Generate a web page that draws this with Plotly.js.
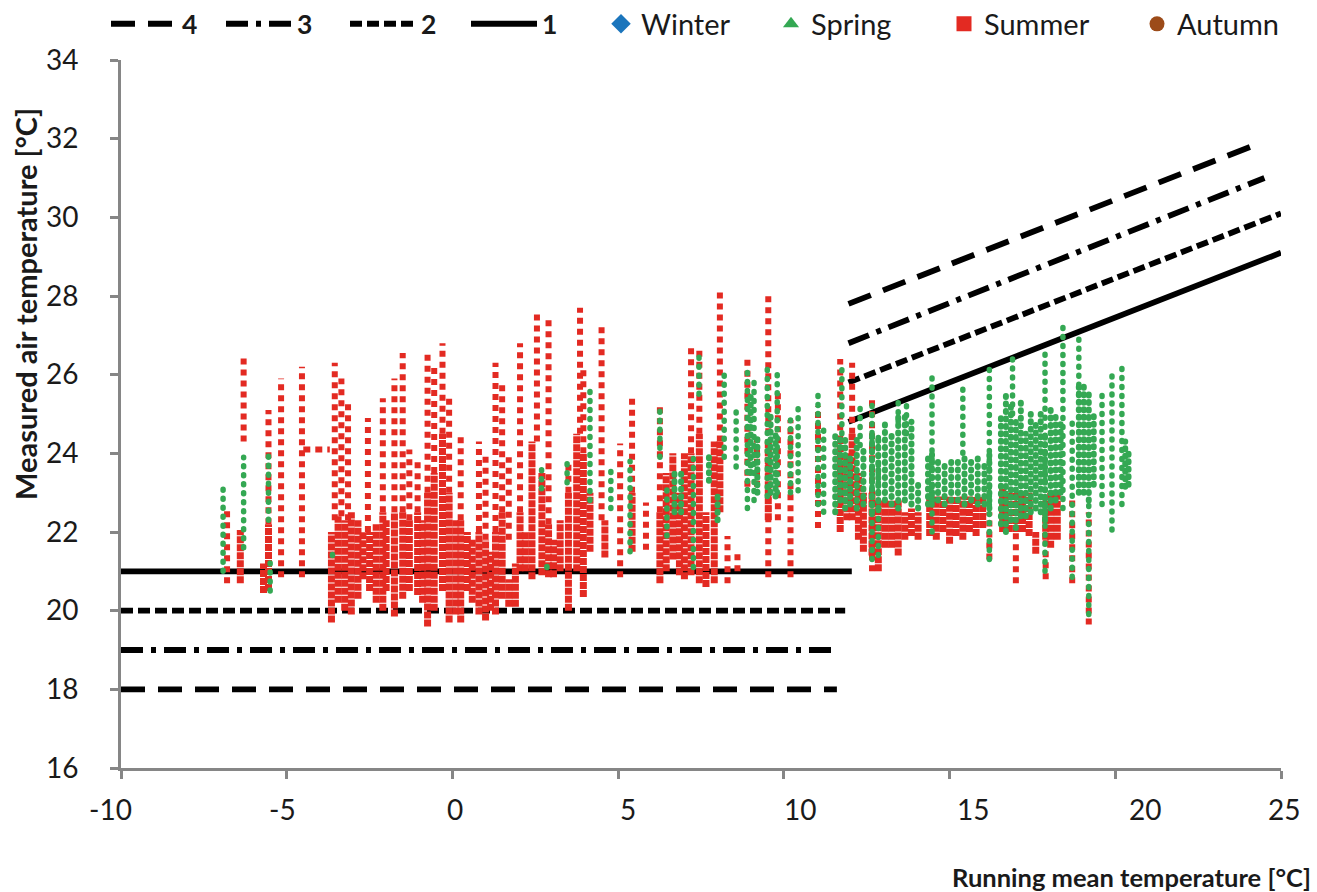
<!DOCTYPE html>
<html><head><meta charset="utf-8">
<script src="https://cdn.plot.ly/plotly-3.0.1.min.js"></script>
<style>
html,body{margin:0;padding:0;background:#fff;}
#chart{width:1317px;height:892px;}
.tracegsp .js-line,.tracegdn .js-line{stroke-linecap:round;}
</style></head><body><div id="chart"></div>
<script>
// ---------- data ----------
const xTicks = [-10,-5,0,5,10,15,20,25];
const xTickLabels = ['-10','-5','0','5','10','15','20','25'];
const yTicks = [16,18,20,22,24,26,28,30,32,34];
const yTickLabels = ['16','18','20','22','24','26','28','30','32','34'];

// comfort category lines (4,3,2,1)
const catLabels = ['4','3','2','1'];
const lowerStartX = [-10,-10,-10,-10];
const lowerEndX = [11.6,11.65,11.85,12.05];
const lowerY = [18,19,20,21];
const upperStartX = [11.95,11.95,11.95,11.95];
const upperStartY = [27.8,26.8,25.8,24.8];
const upperEndX = [24.4,24.5,25,25];
const upperEndY = [31.9,31.0,30.1,29.1];

// Summer: dense vertical runs of points (x, lowest, highest)
const summerDenseX  = [-6.4,-5.7,-5.55,-3.65,-3.45,-3.25,-3.05,-2.85,-2.7,-2.5,-2.3,-2.1,-2.0,-1.75,-1.5,-1.3,-1.05,-0.9,-0.75,-0.55,-0.3,-0.1,0.1,0.25,0.45,0.6,0.8,1.0,1.15,1.3,1.5,1.7,1.9,2.04,2.2,2.4,2.7,2.9,3.05,3.25,3.5,3.75,3.95,4.15,4.6,5.42,6.26,6.45,6.65,6.85,7.0,7.2,7.45,7.65,7.9,8.07,9.53,11.7,11.9,12.06,12.25,12.4,12.66,12.85,13.05,13.25,13.45,13.65,13.85,14.05,14.4,14.6,14.8,15.0,15.2,15.4,15.6,15.8,16.0,16.6,16.8,17.0,17.2,17.4,17.6,17.9,18.05,18.25];
const summerDenseLo = [20.7,20.45,20.5,19.7,20.2,20.0,19.9,20.3,20.8,20.5,20.2,20.0,20.5,19.85,20.3,20.5,20.4,20.2,19.6,20.0,20.5,19.7,19.9,19.7,20.5,20.2,19.9,19.75,20.0,19.9,20.3,20.1,20.1,21.0,21.0,20.8,20.9,20.85,20.85,21.0,20.0,21.0,20.35,21.5,21.35,21.5,20.7,21.0,21.3,20.9,20.8,20.9,20.7,20.6,20.7,22.5,22.3,22.0,22.3,22.3,21.8,21.5,21.4,21.0,21.6,21.6,21.4,21.8,21.9,21.8,21.9,21.8,22.0,21.7,21.9,21.8,22.0,21.9,22.1,22.0,22.0,22.0,22.0,21.9,21.45,21.8,21.6,21.8];
const summerDenseHi = [22.05,21.2,22.2,22.0,22.4,22.3,22.5,22.3,22.0,22.0,22.2,22.5,22.3,22.5,22.5,22.3,22.5,22.3,23.0,23.5,24.5,23.0,22.3,22.3,22.0,21.8,22.0,21.8,21.5,22.0,22.5,20.8,21.2,22.5,22.0,24.3,23.5,22.2,21.8,22.3,23.0,24.5,24.0,23.0,22.3,23.0,22.5,23.5,24.0,23.0,24.0,24.0,24.5,22.5,24.3,24.3,24.3,24.3,24.0,24.5,23.5,23.0,23.0,22.8,22.8,22.8,22.8,22.5,22.6,22.5,22.9,22.9,22.9,22.9,22.9,22.9,22.9,22.9,22.9,23.1,23.0,23.0,23.0,23.0,22.0,22.9,23.0,23.0];

// Summer: sparse vertical runs (spaced points)
const summerSparseX  = [-6.8,-6.3,-5.55,-5.17,-4.54,-3.55,-3.35,-3.15,-2.55,-2.1,-1.75,-1.5,-1.3,-1.05,-0.75,-0.55,-0.3,-0.1,0.25,0.8,1.0,1.3,1.5,1.7,2.04,2.55,2.9,3.5,3.85,3.95,4.5,5.06,5.42,5.84,6.26,7.2,7.45,8.07,8.3,8.6,8.9,9.19,9.53,9.82,10.2,11.03,11.7,12.06,12.66,16.2,17.0,17.9,18.7,19.2];
const summerSparseLo = [20.7,24.3,22.2,20.85,20.85,22.3,22.4,22.3,22.0,22.5,22.5,22.5,22.3,22.5,23.0,23.5,24.5,23.0,22.3,22.0,21.8,22.0,22.5,21.8,22.5,24.3,22.2,23.0,24.5,24.0,22.3,20.85,23.0,21.55,22.5,24.0,24.5,24.3,20.7,21.0,23.15,23.15,20.85,22.3,20.85,22.1,24.3,24.5,21.0,21.3,20.7,20.8,20.7,19.65];
const summerSparseHi = [22.6,26.45,25.1,25.9,26.2,26.3,25.9,25.3,24.9,25.4,25.9,26.55,24.1,23.8,26.6,26.2,26.8,25.5,24.5,24.3,24.0,26.3,25.8,23.9,26.8,27.6,27.4,23.8,27.7,26.2,27.3,24.25,25.45,22.75,25.2,26.7,26.65,28.1,21.9,21.5,26.45,24.4,28.0,25.6,24.85,25.2,26.4,26.3,25.35,22.5,22.0,21.8,22.8,22.5];

// Summer: horizontal run of points
const summerRowX0 = [-4.5];
const summerRowX1 = [-3.7];
const summerRowY  = [24.1];

// Spring: dense vertical runs
const springDenseX  = [6.7,6.9,7.74,8.0,9.0,9.2,9.6,9.75,11.55,11.7,11.85,12.0,12.2,12.4,12.66,12.85,13.05,13.25,13.45,13.65,13.85,14.05,14.35,14.47,14.65,14.85,15.05,15.25,15.45,15.65,15.85,16.05,16.2,16.55,16.7,16.85,17.0,17.15,17.3,17.45,17.6,17.75,17.88,18.05,18.2,18.35,18.9,19.05,19.2,19.35,20.3,20.4];
const springDenseLo = [22.5,22.5,23.3,22.3,23.5,23.0,23.0,22.9,22.5,22.8,22.6,22.7,22.6,22.7,22.5,22.6,22.8,22.7,22.6,22.8,22.7,22.6,22.7,22.8,22.8,22.7,22.8,22.8,22.7,22.8,22.7,22.7,22.6,22.2,22.0,22.3,22.1,22.4,22.4,22.5,22.6,22.5,22.3,22.6,22.8,23.0,23.0,23.0,22.8,23.2,23.15,23.2];
const springDenseHi = [23.6,23.6,24.0,22.9,25.5,24.5,25.0,24.5,24.5,24.5,24.5,24.0,24.5,24.2,24.5,24.5,24.8,24.5,25.0,25.0,24.8,23.3,23.9,24.0,23.9,23.8,23.9,23.8,24.0,23.8,23.9,23.7,24.0,25.0,25.5,25.2,24.8,25.3,24.5,25.0,24.8,25.0,24.5,25.2,25.0,24.8,25.8,25.7,25.5,25.0,24.3,24.1];

// Spring: sparse vertical runs
const springSparseX  = [-6.92,-6.3,-5.55,-5.5,-3.62,2.69,2.85,3.46,4.15,4.78,5.36,6.26,6.47,7.27,7.44,8.2,8.56,8.9,9.1,9.5,9.8,10.2,10.43,11.03,11.2,11.75,12.3,12.66,12.85,13.45,13.7,14.47,15.4,16.2,16.9,17.88,18.42,18.7,18.9,19.2,19.6,19.9,20.2];
const springSparseLo = [21.0,21.6,22.3,20.5,21.4,23.1,21.1,23.25,22.8,22.6,21.5,23.9,21.9,21.1,25.5,23.9,23.65,22.6,22.8,22.9,23.0,23.0,23.05,22.7,22.5,24.5,24.2,21.3,21.4,24.8,24.5,22.0,24.0,21.3,25.0,21.0,22.6,20.85,25.5,19.9,22.7,22.05,22.7];
const springSparseHi = [23.1,23.9,24.1,21.4,21.6,23.6,21.3,23.8,25.7,23.6,23.8,25.2,23.25,24.0,26.5,26.0,25.2,26.2,26.0,26.3,26.0,24.85,25.2,25.6,24.7,26.2,25.3,25.35,24.5,25.45,25.4,26.0,25.65,26.25,26.6,26.6,27.25,24.9,27.1,22.8,25.6,26.0,26.25];

const seasonNames = ['Winter','Spring','Summer','Autumn'];

// ---------- styling ----------
function fontAvailable(name){
  const c = document.createElement('canvas').getContext('2d');
  const s = 'abcdefghijklmnopqrstuvwxyzABCDEFGHIJ0123456789';
  c.font = '40px monospace'; const a = c.measureText(s).width;
  c.font = '40px "' + name + '", monospace'; const b = c.measureText(s).width;
  return Math.abs(a - b) > 1;
}
const NARROW = fontAvailable('Liberation Sans Narrow');
const FONT = NARROW ? '"Liberation Sans Narrow", "Liberation Sans", sans-serif' : 'Lato, sans-serif';
const K = NARROW ? 1.2 : 1;
const TXT = '#1a1a1a';
const RED = '#e32a22', GREEN = '#34a853', BLUE = '#1b75bc', BROWN = '#9c4b19';
const AXC = '#868686';
const FS = {tick:28*K, legendNum:26.5*K, legend:29*K, xTitle:25.5*K, yTitle:29*K};

function vsegs(xs, lo, hi){
  const x = [], y = [];
  for (let i = 0; i < xs.length; i++){ x.push(xs[i], xs[i], null); y.push(lo[i], hi[i], null); }
  return {x, y};
}
function hsegs(x0, x1, ys){
  const x = [], y = [];
  for (let i = 0; i < ys.length; i++){ x.push(x0[i], x1[i], null); y.push(ys[i], ys[i], null); }
  return {x, y};
}

const traces = [];
const catDash = ['24px,13px','22px,8px,5px,8px','12px,5px','solid'];
for (let i = 0; i < catLabels.length; i++){
  traces.push({
    type:'scatter', mode:'lines', name:'<b>' + catLabels[i] + '</b>',
    x:[lowerStartX[i], lowerEndX[i], null, upperStartX[i], upperEndX[i]],
    y:[lowerY[i], lowerY[i], null, upperStartY[i], upperEndY[i]],
    line:{color:'#000', width:5.8, dash:catDash[i]},
    legend: i === 0 ? 'legend' : 'legend' + (i + 1),
    hoverinfo:'skip'
  });
}
const sd = vsegs(summerDenseX, summerDenseLo, summerDenseHi);
traces.push({type:'scatter', mode:'lines', x:sd.x, y:sd.y, line:{color:RED, width:7, dash:'7px,1px'}, showlegend:false, hoverinfo:'skip'});
const ss = vsegs(summerSparseX, summerSparseLo, summerSparseHi);
traces.push({type:'scatter', mode:'lines', x:ss.x, y:ss.y, line:{color:RED, width:6, dash:'6px,5px'}, showlegend:false, hoverinfo:'skip'});
const sr = hsegs(summerRowX0, summerRowX1, summerRowY);
traces.push({type:'scatter', mode:'lines', x:sr.x, y:sr.y, line:{color:RED, width:6, dash:'7px,5px'}, showlegend:false, hoverinfo:'skip'});
const gd = vsegs(springDenseX, springDenseLo, springDenseHi);
traces.push({type:'scatter', mode:'lines', uid:'gdn', x:gd.x, y:gd.y, line:{color:GREEN, width:6, dash:'1px,6.5px'}, showlegend:false, hoverinfo:'skip'});
const gs = vsegs(springSparseX, springSparseLo, springSparseHi);
traces.push({type:'scatter', mode:'lines', uid:'gsp', x:gs.x, y:gs.y, line:{color:GREEN, width:5.5, dash:'1px,8px'}, showlegend:false, hoverinfo:'skip'});

const seasonSymbols = ['diamond','triangle-up','square','circle'];
const seasonColors = [BLUE, GREEN, RED, BROWN];
const seasonSizes = [15, 14, 15, 15];
for (let i = 0; i < seasonNames.length; i++){
  traces.push({type:'scatter', mode:'markers', name:seasonNames[i], x:[null], y:[null],
    marker:{symbol:seasonSymbols[i], color:seasonColors[i], size:seasonSizes[i]},
    legend:'legend' + (i + 5)});
}

// ---------- layout ----------
const L = 121, PW = 1160, T = 60, PH = 708;
const px2x = p => (p - L) / PW;
const py2y = p => (T + PH - p) / PH;

const layout = {
  width:1317, height:892,
  margin:{l:L, r:1317 - L - PW, t:T, b:892 - T - PH, autoexpand:false},
  paper_bgcolor:'#fff', plot_bgcolor:'#fff',
  showlegend:true,
  xaxis:{range:[-10,25], tickvals:xTicks, showticklabels:false, ticks:'outside', ticklen:8, tickwidth:3, tickcolor:AXC,
         showline:true, linewidth:3, linecolor:AXC, showgrid:false, zeroline:false, fixedrange:true, automargin:false},
  yaxis:{range:[16,34], tickvals:yTicks, ticktext:yTickLabels, ticks:'outside', ticklen:8, tickwidth:3, tickcolor:AXC,
         showline:true, linewidth:3, linecolor:AXC, showgrid:false, zeroline:false, fixedrange:true, automargin:false,
         tickfont:{family:FONT, size:FS.tick, color:TXT}, ticklabelstandoff:26},
  annotations:[]
};

// x tick labels (Excel spreads them slightly wider than the ticks)
for (let i = 0; i < xTicks.length; i++){
  const p = Math.min(455 + 34.5 * xTicks[i], 1284);
  layout.annotations.push({xref:'paper', yref:'paper', x:px2x(p), y:py2y(809), xanchor:'center', yanchor:'middle',
    text:xTickLabels[i], showarrow:false, font:{family:FONT, size:FS.tick, color:TXT}});
}
layout.annotations.push({xref:'paper', yref:'paper', x:px2x(950), y:py2y(860), xanchor:'left', yanchor:'top',
  text:'<b>Running mean temperature [°C]</b>', showarrow:false, font:{family:FONT, size:FS.xTitle, color:TXT}});
layout.annotations.push({xref:'paper', yref:'paper', x:px2x(25), y:py2y(304), xanchor:'center', yanchor:'middle', textangle:-90,
  text:'<b>Measured air temperature [°C]</b>', showarrow:false, font:{family:FONT, size:FS.yTitle, color:TXT}});

// legends: one per entry, placed like the reference
const lineLegendPx = [106, 221, 345, 466];
const seasonLegendPx = [601, 771, 944, 1137];
function legendAt(p, size, iw){
  return {x:px2x(p), xanchor:'left', y:py2y(24), yanchor:'middle', orientation:'h', bgcolor:'rgba(0,0,0,0)',
    borderwidth:0, itemwidth:iw, font:{family:FONT, size:size, color:TXT}, itemclick:false, itemdoubleclick:false};
}
for (let i = 0; i < 4; i++){
  layout[i === 0 ? 'legend' : 'legend' + (i + 1)] = legendAt(lineLegendPx[i], FS.legendNum, 66);
}
for (let i = 0; i < 4; i++){
  layout['legend' + (i + 5)] = legendAt(seasonLegendPx[i], FS.legend, 30);
}

Plotly.newPlot('chart', traces, layout, {displayModeBar:false, staticPlot:true});
</script></body></html>
